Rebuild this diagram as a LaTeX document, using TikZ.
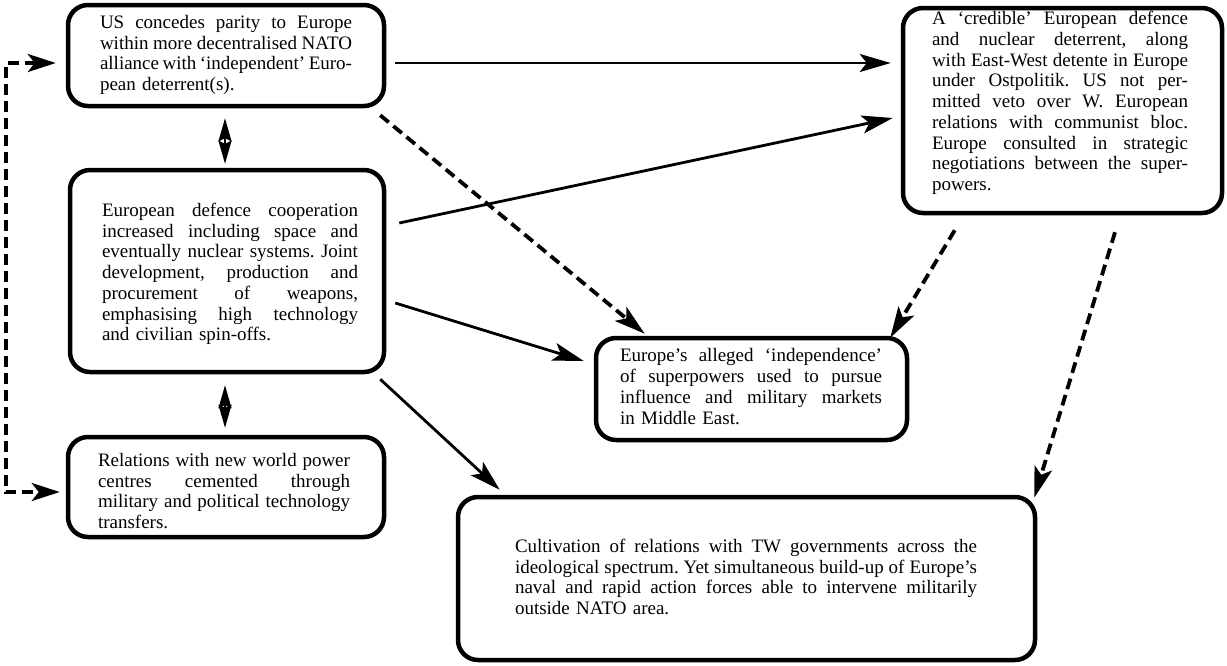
\documentclass[tikz,border=0pt]{standalone}
\usepackage{fontspec}
\setmainfont{Liberation Serif}
\usetikzlibrary{arrows.meta,calc}
\frenchspacing
% one fully justified line of a box text (font interword glue, stretched to the line)
\newcommand{\jl}[1]{\makebox[\hsize][s]{\spaceskip=0pt\xspaceskip=0pt #1}\\}
\begin{document}
\begin{tikzpicture}[x=1pt,y=-1pt,
  box/.style={draw, line width=4.5pt, rounded corners=20pt, inner sep=0pt},
  txt/.style={inner sep=0pt, align=left, font=\fontsize{19}{20.7}\selectfont},
  conn/.style={line width=2.8pt, -{Stealth[length=31pt, width=18pt, inset=7pt]}},
  dconn/.style={conn, line width=3.8pt, dash pattern=on 11pt off 6pt},
  both/.style={line width=3.8pt, dash pattern=on 11pt off 6pt,
    {Stealth[length=28pt, width=18pt, inset=7pt]}-{Stealth[length=28pt, width=18pt, inset=7pt]}},
  dbl/.style={line width=2pt,
    {Stealth[length=23pt, width=13pt, inset=3pt]}-{Stealth[length=23pt, width=13pt, inset=3pt]}}]

\fill[white] (0,0) rectangle (1227,665);
\useasboundingbox (0,0) rectangle (1227,665);

% boxes
\node[box, minimum width=316pt, minimum height=101pt] (A) at (226,55.5) {};
\node[box, minimum width=314pt, minimum height=202pt] (B) at (227,271) {};
\node[box, minimum width=316pt, minimum height=100pt] (C) at (226,487) {};
\node[box, minimum width=319pt, minimum height=205pt] (D) at (1062.5,110.5) {};
\node[box, minimum width=311pt, minimum height=102pt] (E) at (751.5,389) {};
\node[box, minimum width=577pt, minimum height=163pt] (F) at (746.5,578.5) {};

% texts
\node[txt, text width=252pt] (At) at (226,55) {%
\jl{US concedes parity to Europe}
\jl{within more decentralised NATO}
\jl{alliance with ‘independent’ Euro-}
pean deterrent(s).};

\node[txt, text width=256pt] (Bt) at (230,274) {%
\jl{European defence cooperation}
\jl{increased including space and}
\jl{eventually nuclear systems. Joint}
\jl{development, production and}
\jl{procurement of weapons,}
\jl{emphasising high technology}
and civilian spin-offs.};

\node[txt, text width=252pt] (Ct) at (224,491) {%
\jl{Relations with new world power}
\jl{centres cemented through}
\jl{military and political technology}
transfers.};

\node[txt, text width=256pt] (Dt) at (1060,103) {%
\jl{A ‘credible’ European defence}
\jl{and nuclear deterrent, along}
\jl{with East-West detente in Europe}
\jl{under Ostpolitik. US not per-}
\jl{mitted veto over W. European}
\jl{relations with communist bloc.}
\jl{Europe consulted in strategic}
\jl{negotiations between the super-}
powers.};

\node[txt, text width=262pt] (Et) at (751,386.5) {%
\jl{Europe’s alleged ‘independence’}
\jl{of superpowers used to pursue}
\jl{influence and military markets}
in Middle East.};

\node[txt, text width=462pt] (Ft) at (746,577) {%
\jl{Cultivation of relations with TW governments across the}
\jl{ideological spectrum. Yet simultaneous build-up of Europe’s}
\jl{naval and rapid action forces able to intervene militarily}
outside NATO area.};

% solid connectors
\draw[conn] ($(A.east)+(9,7.5)$) -- ($(D.west)+(-10,-47.5)$);
\draw[conn] ($(B.east)+(13,-48)$) -- ($(D.west)+(-8,7.5)$);
\draw[conn] ($(B.east)+(9,32)$) -- ($(E.west)+(-10,-28)$);
\draw[conn] ($(B.south east)+(-6,5)$) -- ($(F.north west)+(44,-5)$);

% dashed connectors
\draw[dconn] ($(A.south east)+(-6,7)$) -- ($(E.north west)+(51,-2)$);
\draw[dconn] ($(D.south west)+(54,15)$) -- ($(E.north east)+(-19,2)$);
\draw[dconn] ($(D.south)+(52.5,17)$) -- ($(F.north east)+(-3,3)$);

% two-way links between the left column boxes
\draw[dbl] ($(A.south)+(-1,10)$) -- ($(B.north)+(-2,-4)$);
\draw[dbl] ($(B.south)+(-2,11)$) -- ($(C.north)+(-1,-7)$);

% dashed bracket on the left
\draw[both] ($(A.west)+(-10,7.5)$) -- ++(-50,0) |- ($(C.west)+(-6,5)$);

\end{tikzpicture}
\end{document}
